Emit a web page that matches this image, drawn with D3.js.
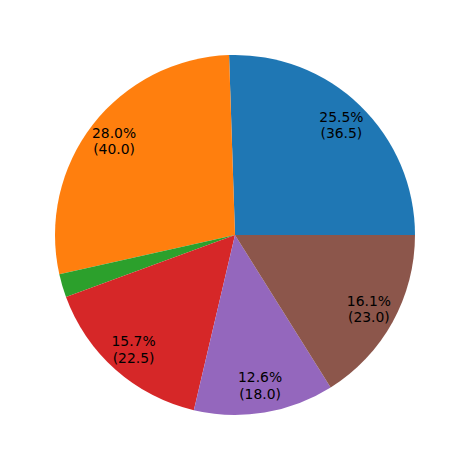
<!DOCTYPE html>
<html>
<head>
<meta charset="utf-8">
<script src="https://cdn.jsdelivr.net/npm/d3@7"></script>
<style>
 body { margin: 0; background: #fff; }
</style>
</head>
<body>
<div class="chart"></div>
<script>
 var values = [36.5, 40.0, 3.0, 22.5, 18.0, 23.0];
 var colors = ["#1f77b4", "#ff7f0e", "#2ca02c", "#d62728", "#9467bd", "#8c564b"];

 var svg = d3.select(".chart").append("svg")
      .attr("width", 469)
      .attr("height", 470);

 var radius = 180;
 var g = svg.append("g").attr("transform", "translate(235,235)");

 // matplotlib starts at 3 o'clock and goes counterclockwise
 var pie = d3.pie()
      .sort(null)
      .startAngle(Math.PI / 2)
      .endAngle(Math.PI / 2 - 2 * Math.PI);

 var arcs = pie(values);
 var total = d3.sum(values);

 var arc = d3.arc().innerRadius(0).outerRadius(radius);
 var labelArc = d3.arc().innerRadius(radius * 0.85).outerRadius(radius * 0.85);

 g.selectAll("path")
   .data(arcs)
   .enter().append("path")
   .attr("d", arc)
   .attr("fill", function(d, i) { return colors[i]; });

 var labels = g.selectAll("text")
   .data(arcs.filter(function(d) { return d.data / total > 0.03; }))
   .enter().append("text")
   .attr("transform", function(d) { return "translate(" + labelArc.centroid(d) + ")"; })
   .attr("text-anchor", "middle")
   .attr("font-family", "DejaVu Sans")
   .attr("font-size", "13.9px")
   .attr("fill", "#000");

 labels.append("tspan")
   .attr("x", 0)
   .attr("y", -3.5)
   .text(function(d) { return (d.data / total * 100).toFixed(1) + "%"; });
 labels.append("tspan")
   .attr("x", 0)
   .attr("y", 13.2)
   .text(function(d) { return "(" + d.data.toFixed(1) + ")"; });
</script>
</body>
</html>
